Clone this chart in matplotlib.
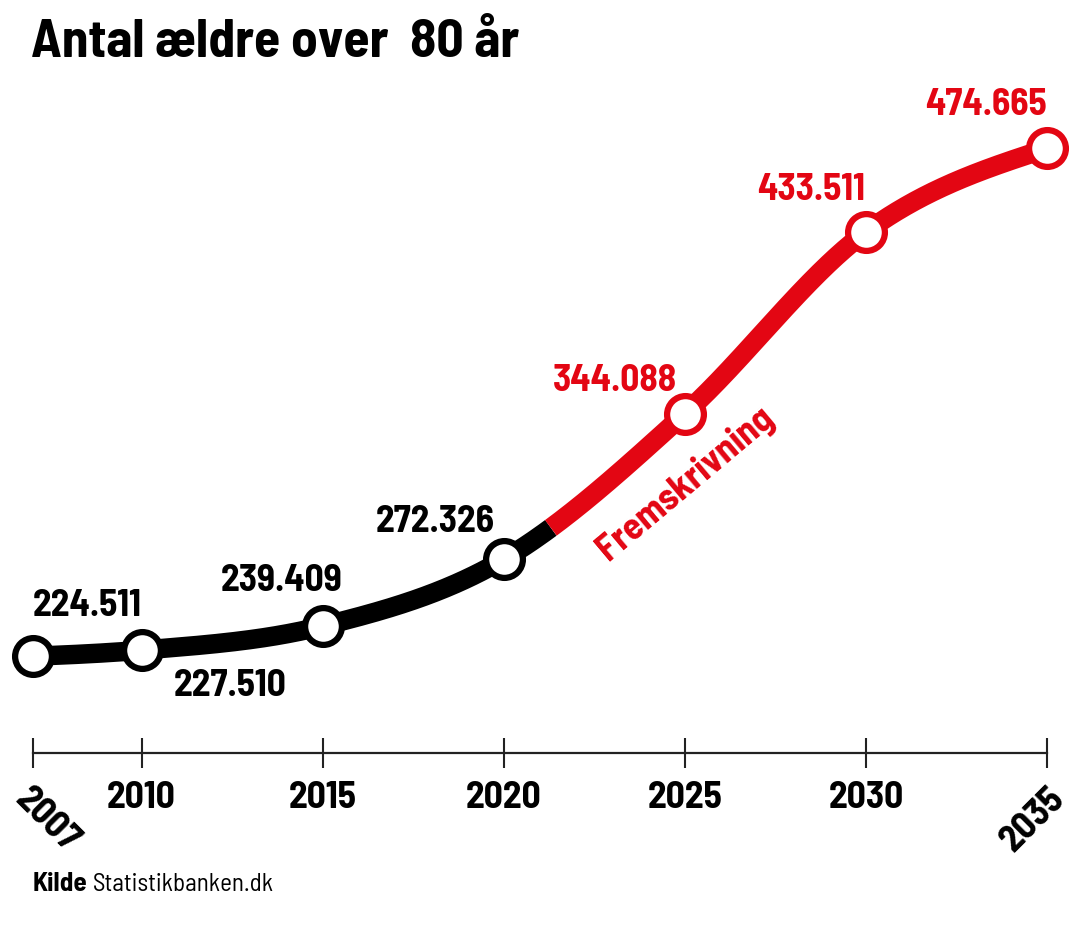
import numpy as np
import matplotlib
matplotlib.use('Agg')
import matplotlib.pyplot as plt

# ---------------- data ----------------
years = [2007, 2010, 2015, 2020, 2025, 2030, 2035]
values = [224511, 227510, 239409, 272326, 344088, 433511, 474665]
value_labels = ['224.511', '227.510', '239.409', '272.326', '344.088', '433.511', '474.665']
tick_labels = ['2007', '2010', '2015', '2020', '2025', '2030', '2035']
projected = [False, False, False, False, True, True, True]
projection_start = 2021.3
title = 'Antal ældre over  80 år'
projection_label = 'Fremskrivning'
source_bold = 'Kilde'
source_text = 'Statistikbanken.dk'

# label offsets in pixels (dx, dy) relative to each point, and alignment
label_offsets = [(0, 40), (32, -46), (-41, 35), (-69, 27), (-70, 23), (-55, 32), (-61, 33)]
label_ha = ['left', 'left', 'center', 'center', 'center', 'center', 'center']

BLACK = '#000000'
RED = '#E30613'
FONT = ['Barlow Semi Condensed', 'DejaVu Sans']
plt.rcParams['font.family'] = FONT


def monotone_cubic(x, y, xs):
    x = np.asarray(x, float)
    y = np.asarray(y, float)
    h = np.diff(x)
    s = np.diff(y) / h
    m = np.zeros_like(y)
    for i in range(1, len(x) - 1):
        p = (s[i - 1] * h[i] + s[i] * h[i - 1]) / (h[i - 1] + h[i])
        m[i] = (np.sign(s[i - 1]) + np.sign(s[i])) * min(abs(s[i - 1]), abs(s[i]), 0.5 * abs(p))
    m[0] = (3 * s[0] - m[1]) / 2
    m[-1] = (3 * s[-1] - m[-2]) / 2
    xs = np.asarray(xs, float)
    idx = np.clip(np.searchsorted(x, xs, side='right') - 1, 0, len(x) - 2)
    hh = h[idx]
    t = (xs - x[idx]) / hh
    h00 = 2 * t**3 - 3 * t**2 + 1
    h10 = t**3 - 2 * t**2 + t
    h01 = -2 * t**3 + 3 * t**2
    h11 = t**3 - t**2
    return h00 * y[idx] + h10 * hh * m[idx] + h01 * y[idx + 1] + h11 * hh * m[idx + 1]


W, H = 1080, 933
fig = plt.figure(figsize=(W / 100, H / 100), dpi=100)
ax = fig.add_axes([33 / W, (H - 753) / H, (1047 - 33) / W, (753 - 100) / H])
ax.set_xlim(years[0], years[-1])
ax.set_ylim(176861, 498536)

# smooth line split into actual and projected parts
xs_a = np.linspace(years[0], projection_start, 300)
xs_b = np.linspace(projection_start, years[-1], 500)
ax.plot(xs_a, monotone_cubic(years, values, xs_a), color=BLACK, lw=14,
        solid_capstyle='butt', zorder=2, clip_on=False)
ax.plot(xs_b, monotone_cubic(years, values, xs_b), color=RED, lw=14,
        solid_capstyle='butt', zorder=2, clip_on=False)

# markers
for yr, v, pr in zip(years, values, projected):
    ax.plot([yr], [v], 'o', ms=26.5, mfc='white', mec=RED if pr else BLACK,
            mew=4.5, zorder=3, clip_on=False)

# value labels
for yr, v, lab, pr, (dx, dy), ha in zip(years, values, value_labels, projected,
                                          label_offsets, label_ha):
    ax.annotate(lab, xy=(yr, v), xytext=(dx, dy), textcoords='offset pixels',
                ha=ha, va='baseline', fontsize=27, fontweight='bold',
                color=RED if pr else BLACK, zorder=4, annotation_clip=False)

# projection label
ax.annotate(projection_label, xy=(years[4], values[4]), xytext=(0, -70),
            textcoords='offset pixels', ha='center', va='center', rotation=40,
            rotation_mode='anchor', fontsize=27, fontweight='bold', color=RED,
            annotation_clip=False)

# axes styling
for sp in ['top', 'right', 'left']:
    ax.spines[sp].set_visible(False)
ax.spines['bottom'].set_linewidth(1.6)
ax.spines['bottom'].set_color('#222222')
ax.set_yticks([])
ax.tick_params(axis='x', direction='inout', length=21, width=1.5, color='#222222',
               pad=10, labelsize=27)
ax.set_xticks(years)
ax.set_xticklabels(tick_labels, fontweight='bold')
tls = ax.get_xticklabels()
tls[0].set_rotation(-45)
tls[0].set_rotation_mode('anchor')
tls[0].set_ha('left')
tls[0].set_va('top')
tls[-1].set_rotation(45)
tls[-1].set_rotation_mode('anchor')
tls[-1].set_ha('right')
tls[-1].set_va('top')

# title
fig.text(31 / W, 1 - 57 / H, title, fontsize=38.5, fontweight='bold', color=BLACK,
         ha='left', va='baseline')

# source
t1 = fig.text(33 / W, 1 - 891 / H, source_bold, fontsize=19.5, fontweight='bold',
              color=BLACK, ha='left', va='baseline')
fig.canvas.draw()
bb = t1.get_window_extent(fig.canvas.get_renderer())
fig.text((bb.x1 + 5) / W, 1 - 891 / H, source_text, fontsize=18, color=BLACK,
         ha='left', va='baseline')

fig.savefig('out.png', dpi=100, facecolor='white')
